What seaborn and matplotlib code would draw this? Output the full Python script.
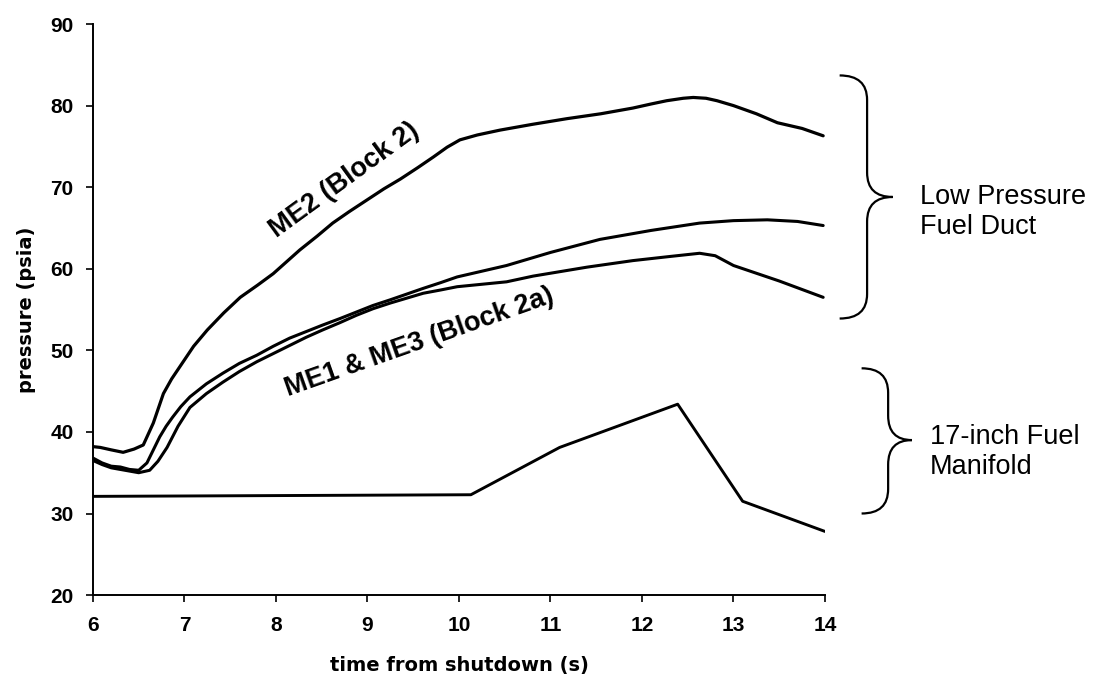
import numpy as np
import pandas as pd
import matplotlib.pyplot as plt
import seaborn as sns
from matplotlib.path import Path
from matplotlib.patches import PathPatch

# ME2 (Block 2)
me2_t = [6.0, 6.08, 6.2, 6.33, 6.45, 6.55, 6.66, 6.77, 6.86, 6.95, 7.1, 7.25, 7.43, 7.61,
         7.8, 7.97, 8.12, 8.26, 8.45, 8.62, 8.8, 8.99, 9.18, 9.36, 9.55, 9.72, 9.87, 10.01, 10.2,
         10.45, 10.8, 11.18, 11.55, 11.9, 12.1, 12.27, 12.45, 12.56, 12.7, 12.82, 13.0, 13.25,
         13.48, 13.75, 13.98]
me2_p = [38.2, 38.1, 37.8, 37.5, 37.9, 38.4, 41.1, 44.7, 46.5, 48.0, 50.5, 52.5, 54.6, 56.5,
         58.0, 59.4, 60.9, 62.3, 64.0, 65.6, 67.0, 68.4, 69.8, 71.0, 72.4, 73.7, 74.9, 75.8, 76.4,
         77.0, 77.7, 78.4, 79.0, 79.7, 80.2, 80.6, 80.9, 81.0, 80.9, 80.6, 80.0, 79.0,
         77.9, 77.2, 76.3]

# ME1 & ME3 (Block 2a) - two traces
blk2a_hi_t = [6.0, 6.1, 6.2, 6.3, 6.4, 6.5, 6.59, 6.66, 6.73, 6.8, 6.87, 6.96, 7.06, 7.24, 7.42,
              7.6, 7.79, 7.97, 8.15, 8.33, 8.51, 8.7, 8.88, 9.06, 9.25, 9.43, 9.61, 9.8, 9.98,
              10.25, 10.52, 11.0, 11.54, 12.1, 12.63, 13.0, 13.37, 13.7, 13.98]
blk2a_hi_p = [36.8, 36.2, 35.8, 35.7, 35.4, 35.3, 36.2, 37.8, 39.4, 40.7, 41.8, 43.1, 44.3, 45.9, 47.2,
              48.4, 49.4, 50.5, 51.5, 52.3, 53.1, 53.9, 54.7, 55.5, 56.2, 56.9, 57.6, 58.3, 59.0,
              59.7, 60.4, 62.0, 63.6, 64.7, 65.6, 65.9, 66.0, 65.8, 65.3]

blk2a_lo_t = [6.0, 6.1, 6.2, 6.3, 6.4, 6.5, 6.62, 6.71, 6.81, 6.93, 7.06, 7.24, 7.42, 7.6, 7.79,
              7.97, 8.15, 8.33, 8.51, 8.7, 8.88, 9.06, 9.25, 9.43, 9.61, 9.8, 9.98, 10.25, 10.52,
              10.81, 11.4, 11.9, 12.3, 12.63, 12.8, 13.0, 13.5, 13.98]
blk2a_lo_p = [36.5, 36.0, 35.6, 35.4, 35.2, 35.0, 35.3, 36.4, 38.1, 40.7, 43.0, 44.7, 46.1, 47.4, 48.6,
              49.6, 50.6, 51.6, 52.5, 53.4, 54.3, 55.1, 55.8, 56.4, 57.0, 57.4, 57.8, 58.1, 58.4,
              59.1, 60.2, 61.0, 61.5, 61.9, 61.6, 60.4, 58.5, 56.5]

# 17-inch fuel manifold
man_t = [6.0, 10.13, 11.1, 12.39, 13.1, 14.0]
man_p = [32.1, 32.3, 38.1, 43.4, 31.5, 27.8]

sns.set_style("ticks")
plt.rcParams['font.family'] = ['Liberation Sans', 'DejaVu Sans']
plt.rcParams['text.color'] = 'black'
plt.rcParams['axes.labelcolor'] = 'black'

fig = plt.figure(figsize=(11, 6.77), dpi=100)
ax = fig.add_axes([0.0845, 0.121, 0.6655, 0.8435])

for t, p, lw in [(me2_t, me2_p, 2.3), (blk2a_hi_t, blk2a_hi_p, 2.2),
                 (blk2a_lo_t, blk2a_lo_p, 2.2), (man_t, man_p, 2.1)]:
    df = pd.DataFrame({'t': t, 'p': p})
    sns.lineplot(data=df, x='t', y='p', sort=False, estimator=None, color='black',
                 linewidth=lw, ax=ax)

ax.set_xlim(6, 14)
ax.set_ylim(20, 90)
ax.set_xticks(range(6, 15))
ax.set_yticks(range(20, 91, 10))
sns.despine(ax=ax)
for s in ['left', 'bottom']:
    ax.spines[s].set_linewidth(1.4)
    ax.spines[s].set_color('black')
ax.tick_params(direction='out', length=5, width=1.2, colors='black', labelsize=15)
ax.tick_params(axis='x', pad=10)
ax.tick_params(axis='y', pad=9)
for lab in ax.get_xticklabels() + ax.get_yticklabels():
    lab.set_fontweight('bold')

# axis titles in the wider DejaVu face to mimic the spaced-out lettering
ax.set_xlabel('time from shutdown (s)', fontsize=14, fontweight='bold', labelpad=15,
              family='DejaVu Sans')
ax.set_ylabel('pressure (psia)', fontsize=14, fontweight='bold', labelpad=10,
              family='DejaVu Sans')

ax.text(8.75, 70.9, 'ME2 (Block 2)', rotation=36, ha='center', va='center',
        fontsize=19.5, fontweight='bold')
ax.text(9.57, 51.0, 'ME1 & ME3 (Block 2a)', rotation=19.5, ha='center', va='center',
        fontsize=19.5, fontweight='bold')


def brace(x0, xs, xt, y_top, y_tip, y_bot):
    h = 3.0
    verts = [(x0, y_top), (xs, y_top), (xs, y_top - h),
             (xs, y_tip + h), (xs, y_tip), (xt, y_tip),
             (xs, y_tip), (xs, y_tip - h),
             (xs, y_bot + h), (xs, y_bot), (x0, y_bot)]
    codes = [Path.MOVETO, Path.CURVE3, Path.CURVE3,
             Path.LINETO, Path.CURVE3, Path.CURVE3,
             Path.CURVE3, Path.CURVE3,
             Path.LINETO, Path.CURVE3, Path.CURVE3]
    patch = PathPatch(Path(verts, codes), facecolor='none', edgecolor='black',
                      linewidth=1.6, clip_on=False)
    ax.add_patch(patch)


brace(14.16, 14.46, 14.74, 83.7, 68.8, 53.9)
brace(14.40, 14.69, 14.95, 47.8, 39.0, 30.0)

ax.text(15.04, 66.9, 'Low Pressure\nFuel Duct', ha='left', va='center',
        fontsize=19.5, linespacing=1.2, clip_on=False)
ax.text(15.15, 37.6, '17-inch Fuel\nManifold', ha='left', va='center',
        fontsize=19.5, linespacing=1.2, clip_on=False)

fig.savefig('out.png', dpi=100)
